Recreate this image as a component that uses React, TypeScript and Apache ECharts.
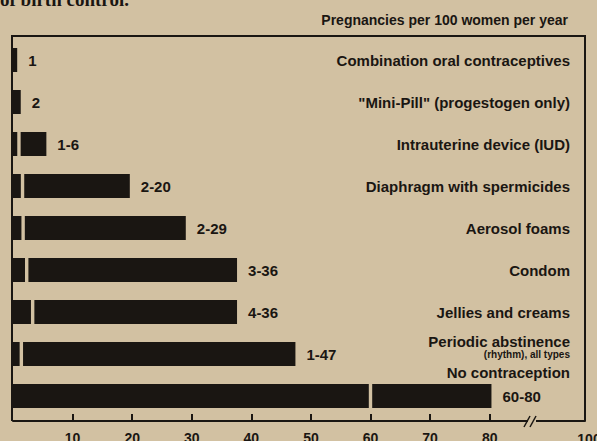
import React, { useEffect, useRef } from "react";
import * as echarts from "echarts";

const categories = [
  "Combination oral contraceptives",
  "\"Mini-Pill\" (progestogen only)",
  "Intrauterine device (IUD)",
  "Diaphragm with spermicides",
  "Aerosol foams",
  "Condom",
  "Jellies and creams",
  "Periodic abstinence",
  "No contraception",
];
const rangeLabels = ["1", "2", "1-6", "2-20", "2-29", "3-36", "4-36", "1-47", "60-80"];
const highValues = [0.7, 1.3, 5.6, 19.6, 29.0, 37.6, 37.6, 47.4, 80.3];
const lowValues = [null, null, 1.0, 1.6, 1.7, 2.3, 3.3, 1.4, 60.0];
const tickValues = [10, 20, 30, 40, 50, 60, 70, 80];
const breakLabel = "100";
const headerText = "Pregnancies per 100 women per year";
const titleFragment = "of birth control.";

const BG = "#d2c1a2";
const INK = "#1a1612";
const FONT = "'Liberation Sans', Arial, Helvetica, sans-serif";

export default function App() {
  const ref = useRef<HTMLDivElement>(null);
  useEffect(() => {
    if (!ref.current) return;
    const chart = echarts.init(ref.current, null, { renderer: "svg" });
    chart.setOption({
      animation: false,
      backgroundColor: BG,
      grid: { left: 13, right: 12, top: 39, height: 378, containLabel: false, outerBoundsMode: "none" },
      xAxis: {
        type: "value",
        min: 0,
        max: 96,
        interval: 10,
        offset: 4,
        splitLine: { show: false },
        axisLine: { show: true, lineStyle: { color: INK, width: 2 } },
        axisTick: {
          show: true,
          inside: true,
          length: 7,
          customValues: tickValues,
          lineStyle: { color: INK, width: 2 },
        },
        axisLabel: {
          show: true,
          customValues: tickValues,
          margin: 10,
          color: INK,
          fontFamily: FONT,
          fontWeight: "bold",
          fontSize: 14,
        },
      },
      yAxis: {
        type: "category",
        data: categories,
        inverse: true,
        position: "right",
        axisLine: { show: false },
        axisTick: { show: false },
        splitLine: { show: false },
        axisLabel: {
          inside: true,
          interval: 0,
          hideOverlap: false,
          margin: 15,
          color: INK,
          formatter: (value: string, index: number) => {
            if (index === 7) return "{a|" + value + "}\n{s|(rhythm), all types}\n{g| }";
            if (index === 8) return "{a|" + value + "}\n{h| }";
            return "{a|" + value + "}";
          },
          rich: {
            a: { fontFamily: FONT, fontWeight: "bold", fontSize: 15, lineHeight: 15, color: INK },
            s: { fontFamily: FONT, fontWeight: "bold", fontSize: 10, lineHeight: 11, color: INK },
            g: { fontSize: 10, lineHeight: 15 },
            h: { fontSize: 10, lineHeight: 48 },
          },
        },
      },
      series: [
        {
          type: "bar",
          data: highValues,
          barWidth: 24,
          itemStyle: { color: INK },
          silent: true,
          label: {
            show: true,
            position: "right",
            distance: 11,
            formatter: (p: any) => rangeLabels[p.dataIndex],
            color: INK,
            fontFamily: FONT,
            fontWeight: "bold",
            fontSize: 15,
          },
        },
        {
          type: "scatter",
          data: lowValues.map((v, i) => (v === null ? null : [v, i])).filter((d) => d !== null),
          symbol: "rect",
          symbolSize: [3.4, 27],
          itemStyle: { color: BG, opacity: 1 },
          silent: true,
          z: 5,
        },
      ],
      graphic: [
        {
          type: "text",
          x: 0,
          y: 9,
          z: 20,
          style: {
            text: titleFragment,
            font: "bold 19px 'Liberation Serif', 'Times New Roman', serif",
            fill: INK,
            align: "left",
            verticalAlign: "bottom",
          },
        },
        {
          type: "text",
          x: 568,
          y: 20,
          z: 20,
          style: {
            text: headerText,
            font: "bold 14px " + FONT,
            fill: INK,
            align: "right",
            verticalAlign: "middle",
          },
        },
        {
          type: "polyline",
          z: 20,
          shape: { points: [[12, 421], [12, 36], [585, 36], [585, 421]] },
          style: { stroke: INK, lineWidth: 2, fill: null },
        },
        {
          type: "rect",
          z: 21,
          shape: { x: 528, y: 418, width: 8, height: 6 },
          style: { fill: BG },
        },
        {
          type: "line",
          z: 22,
          shape: { x1: 524, y1: 427, x2: 530, y2: 416 },
          style: { stroke: INK, lineWidth: 1.5 },
        },
        {
          type: "line",
          z: 22,
          shape: { x1: 530, y1: 427, x2: 536, y2: 416 },
          style: { stroke: INK, lineWidth: 1.5 },
        },
        {
          type: "text",
          x: 589,
          y: 439,
          z: 20,
          style: {
            text: breakLabel,
            font: "bold 14px " + FONT,
            fill: INK,
            align: "center",
            verticalAlign: "middle",
          },
        },
      ],
    });
    return () => chart.dispose();
  }, []);
  return (
    <div
      ref={ref}
      style={{ position: "fixed", left: 0, top: 0, width: 597, height: 441, background: BG }}
    />
  );
}
